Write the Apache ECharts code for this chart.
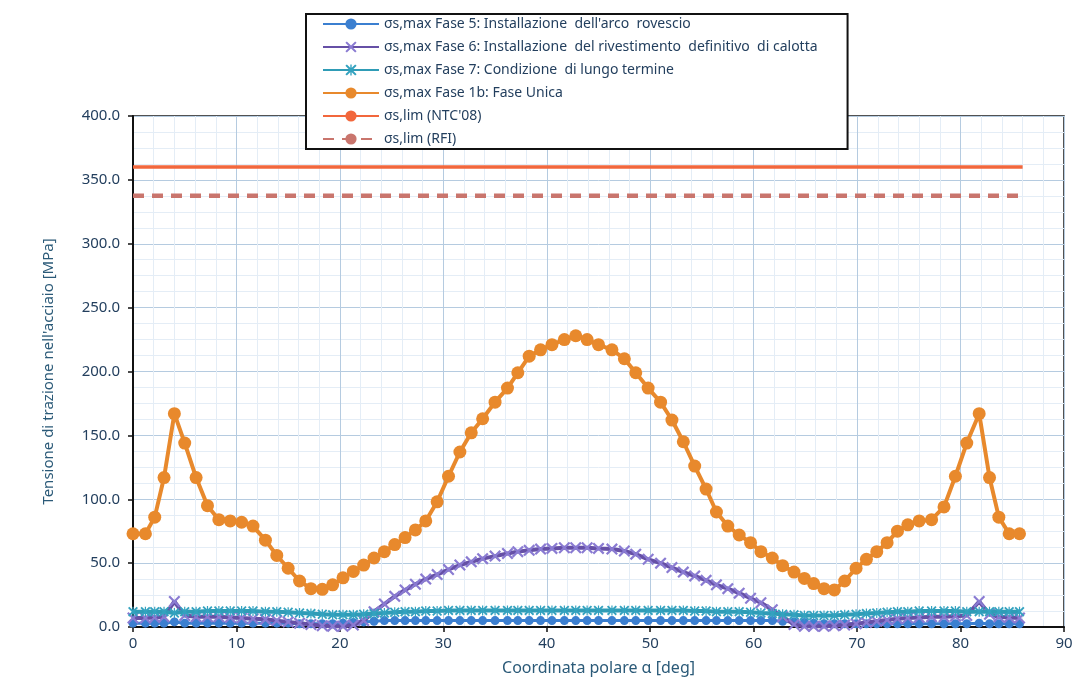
<!DOCTYPE html>
<html>
<head>
<meta charset="utf-8">
<script src="https://cdn.jsdelivr.net/npm/echarts@6/dist/echarts.min.js"></script>
<style>
html,body{margin:0;padding:0;background:#fff;}
#chart{width:1092px;height:681px;}
</style>
</head>
<body>
<div id="chart"></div>
<script>
// Polar coordinate alpha [deg] of the computed sections
const alpha = [
  0, 1.2, 2.1, 3.0, 4.0, 5.0, 6.1, 7.2, 8.3, 9.4, 10.5,
  11.6, 12.8, 13.9, 15.0, 16.1, 17.2, 18.3, 19.3, 20.3, 21.3,
  22.3, 23.3, 24.3, 25.3, 26.3, 27.3, 28.3, 29.4, 30.5, 31.6,
  32.7, 33.8, 35.0, 36.2, 37.2, 38.3, 39.4, 40.5, 41.7, 42.8,
  43.9, 45.0, 46.3, 47.5, 48.6, 49.8, 51.0, 52.1, 53.2, 54.3,
  55.4, 56.4, 57.5, 58.6, 59.7, 60.7, 61.8, 62.8, 63.9, 64.9,
  65.8, 66.8, 67.8, 68.8, 69.9, 70.9, 71.9, 72.9, 73.9, 74.9,
  76.0, 77.2, 78.4, 79.5, 80.6, 81.8, 82.8, 83.7, 84.7, 85.7
];
// sigma s,max Fase 5: Installazione dell'arco rovescio
const fase5 = [
  3, 3, 3, 3, 4, 3, 3, 3, 3, 3, 3,
  3, 3, 3, 3, 2.5, 2.5, 2.5, 2.5, 3, 3.5,
  4, 4.5, 5, 5, 5, 5, 5, 5, 5, 5,
  5, 5, 5, 5, 5, 5, 5, 5, 5, 5,
  5, 5, 5, 5, 5, 5, 5, 5, 5, 5,
  5, 5, 5, 5, 5, 5, 5, 4.5, 4, 3.5,
  3, 2.5, 2.5, 2.5, 2.5, 2.5, 2.5, 2.5, 2.5, 2.5,
  2.5, 2.5, 2.5, 2.5, 2.5, 3, 2.5, 2.5, 2.5, 2.5
];
// sigma s,max Fase 6: Installazione del rivestimento definitivo di calotta
const fase6 = [
  7, 7, 7.5, 8, 20, 9, 8, 8, 8, 7.5, 7,
  6.5, 6, 5, 4, 3, 2, 1, 0.5, 0.5, 1.5,
  5, 12, 18, 24, 29, 33.5, 37.5, 41, 45, 48.5,
  51, 53.5, 55.5, 57.5, 59, 60, 61, 61.5, 62, 62,
  62, 61.5, 61, 59.5, 57, 53, 50, 46.5, 43, 40,
  36.5, 33, 30, 26.5, 22.5, 19, 13.5, 8, 2, 0.5,
  0.5, 0.5, 1, 1.5, 2.5, 3.5, 4.5, 5.5, 6.5, 7,
  7.5, 8, 8, 8.5, 9, 20, 10, 8, 7.5, 7
];
// sigma s,max Fase 7: Condizione di lungo termine
const fase7 = [
  12, 12, 12, 12, 11, 12, 12, 12.5, 12.5, 12.5, 12.5,
  12.5, 12, 12, 11.5, 11, 10.5, 10, 9.5, 9.5, 9.5,
  10, 10.5, 11, 11.5, 12, 12, 12.5, 12.5, 13, 13,
  13, 13, 13, 13, 13, 13, 13, 13, 13, 13,
  13, 13, 13, 13, 13, 13, 13, 13, 13, 12.5,
  12.5, 12, 12, 12, 11.5, 11, 10.5, 10, 9.5, 9,
  9, 9, 9, 9.5, 10, 10.5, 11, 11.5, 12, 12,
  12.5, 12.5, 12.5, 12.5, 12, 12, 12, 12, 12, 12
];
// sigma s,max Fase 1b: Fase Unica
const fase1b = [
  73, 73, 86, 117, 167, 144, 117, 95, 84, 83, 82,
  79, 68, 56, 46, 36, 30, 29.5, 33, 38.5, 43.5,
  48.5, 54, 59, 64.5, 70, 76, 83, 98, 118, 137,
  152, 163, 176, 187, 199, 212, 217, 221, 225, 228,
  225, 221, 217, 210, 199, 187, 176, 162, 145, 126,
  108, 90, 79, 72, 66, 59, 54, 48, 43, 38,
  34, 30, 29, 36, 46, 53, 59, 66, 75, 80,
  83, 84, 94, 118, 144, 167, 117, 86, 73, 73
];
// Limits
const limAlpha = [0, 86];
const limNTC = [360, 360];
const limRFI = [337.5, 337.5];

const seriesNames = [
  "\u03c3s,max Fase 5: Installazione  dell'arco  rovescio",
  "\u03c3s,max Fase 6: Installazione  del rivestimento  definitivo  di calotta",
  "\u03c3s,max Fase 7: Condizione  di lungo termine",
  "\u03c3s,max Fase 1b: Fase Unica",
  "\u03c3s,lim (NTC'08)",
  "\u03c3s,lim (RFI)"
];
const xTicks = [0, 10, 20, 30, 40, 50, 60, 70, 80, 90];
const yTicks = [0, 50, 100, 150, 200, 250, 300, 350, 400];

const pair = (xs, ys) => xs.map((x, i) => [x, ys[i]]);

const crossPath = 'path://M0,1.3 L1.3,0 L5,3.7 L8.7,0 L10,1.3 L6.3,5 L10,8.7 L8.7,10 L5,6.3 L1.3,10 L0,8.7 L3.7,5 Z';
const starPath = 'path://M0,1.3 L1.3,0 L5,3.7 L8.7,0 L10,1.3 L6.3,5 L10,8.7 L8.7,10 L5,6.3 L1.3,10 L0,8.7 L3.7,5 Z M4.4,0 L5.6,0 L5.6,10 L4.4,10 Z';

const FONT = "'Noto Sans', 'Open Sans', sans-serif";
const txtColor = '#233f5e';

const chart = echarts.init(document.getElementById('chart'), null, {renderer: 'canvas'});
chart.setOption({
  animation: false,
  backgroundColor: '#ffffff',
  textStyle: {fontFamily: FONT},
  grid: {left: 133, right: 28, top: 116, bottom: 54, show: true,
         borderColor: '#1a1a1a', borderWidth: 1.5, backgroundColor: 'transparent'},
  legend: {
    orient: 'vertical', left: 306, top: 14,
    backgroundColor: '#ffffff', borderColor: '#111111', borderWidth: 2,
    padding: [3, 30, 3, 16], itemGap: 9, itemWidth: 56, itemHeight: 14,
    textStyle: {fontSize: 14, color: txtColor, fontFamily: FONT},
    data: seriesNames, z: 10
  },
  xAxis: {
    type: 'value', min: xTicks[0], max: xTicks[xTicks.length - 1], interval: 10,
    name: 'Coordinata polare \u03b1 [deg]', nameLocation: 'middle', nameGap: 33,
    nameTextStyle: {fontSize: 16, color: '#2b5a78', fontFamily: FONT},
    axisLine: {show: true, onZero: false, lineStyle: {color: '#111', width: 2}},
    axisTick: {show: true, length: 5, lineStyle: {color: '#111', width: 1.5}},
    axisLabel: {fontSize: 15, color: txtColor, margin: 9, fontFamily: FONT},
    splitLine: {show: true, lineStyle: {color: '#b5cbe0', width: 1}},
    minorTick: {show: true, splitNumber: 5, length: 0},
    minorSplitLine: {show: true, lineStyle: {color: '#e4edf6', width: 1}}
  },
  yAxis: {
    type: 'value', min: yTicks[0], max: yTicks[yTicks.length - 1], interval: 50,
    name: "Tensione di trazione nell'acciaio [MPa]", nameLocation: 'middle', nameGap: 77,
    nameTextStyle: {fontSize: 15, color: '#2b5a78', fontFamily: FONT},
    axisLine: {show: true, onZero: false, lineStyle: {color: '#111', width: 2}},
    axisTick: {show: true, length: 5, lineStyle: {color: '#111', width: 1.5}},
    axisLabel: {fontSize: 15, color: txtColor, margin: 13, fontFamily: FONT,
                formatter: v => v.toFixed(1)},
    splitLine: {show: true, lineStyle: {color: '#b5cbe0', width: 1}},
    minorTick: {show: true, splitNumber: 4, length: 0},
    minorSplitLine: {show: true, lineStyle: {color: '#e4edf6', width: 1}}
  },
  series: [
    {
      name: seriesNames[0], type: 'line', data: pair(alpha, fase5),
      symbol: 'circle', symbolSize: 9, showAllSymbol: true,
      lineStyle: {color: '#3b7fd0', width: 3},
      itemStyle: {color: '#3b7fd0'}, z: 2
    },
    {
      name: seriesNames[1], type: 'line', data: pair(alpha, fase6),
      symbol: crossPath, symbolSize: 12, showAllSymbol: true,
      lineStyle: {color: '#6650a6', width: 4},
      itemStyle: {color: '#8a7bd2'}, z: 3
    },
    {
      name: seriesNames[2], type: 'line', data: pair(alpha, fase7),
      symbol: starPath, symbolSize: 10, showAllSymbol: true,
      lineStyle: {color: '#2f9cb6', width: 4},
      itemStyle: {color: '#33a2bf'}, z: 4
    },
    {
      name: seriesNames[3], type: 'line', data: pair(alpha, fase1b),
      symbol: 'circle', symbolSize: 13, showAllSymbol: true,
      lineStyle: {color: '#e8892c', width: 4},
      itemStyle: {color: '#e8892c'}, z: 5
    },
    {
      name: seriesNames[4], type: 'line', data: pair(limAlpha, limNTC),
      symbol: 'none', lineStyle: {color: '#f2673c', width: 3.5},
      itemStyle: {color: '#f2673c'}, z: 5
    },
    {
      name: seriesNames[5], type: 'line', data: pair(limAlpha, limRFI),
      symbol: 'none', lineStyle: {color: '#c9756d', width: 4.5, type: [11, 8]},
      itemStyle: {color: '#c9756d'}, z: 5
    }
  ]
});
</script>
</body>
</html>
